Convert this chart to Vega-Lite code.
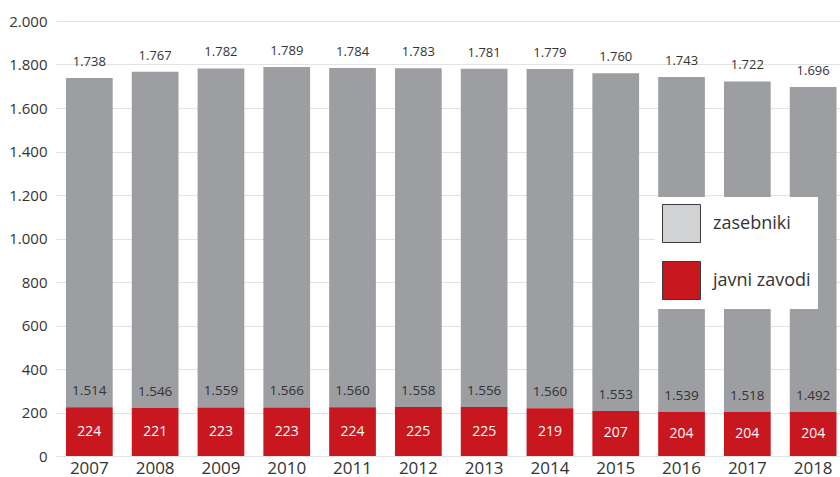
{
  "$schema": "https://vega.github.io/schema/vega-lite/v6.json",
  "width": 784,
  "height": 435,
  "autosize": {"type": "none"},
  "padding": {"left": 56, "top": 21, "right": 0, "bottom": 21},
  "background": "white",
  "config": {
    "locale": {"number": {"decimal": ",", "thousands": ".", "grouping": [3], "currency": ["", " €"]}},
    "font": "Open Sans",
    "view": {"stroke": null},
    "axis": {"domain": false, "ticks": false, "labelColor": "#333333", "title": null}
  },
  "data": {
    "values": [
      {"leto": "2007", "javni": 224, "zasebniki": 1514, "skupaj": 1738},
      {"leto": "2008", "javni": 221, "zasebniki": 1546, "skupaj": 1767},
      {"leto": "2009", "javni": 223, "zasebniki": 1559, "skupaj": 1782},
      {"leto": "2010", "javni": 223, "zasebniki": 1566, "skupaj": 1789},
      {"leto": "2011", "javni": 224, "zasebniki": 1560, "skupaj": 1784},
      {"leto": "2012", "javni": 225, "zasebniki": 1558, "skupaj": 1783},
      {"leto": "2013", "javni": 225, "zasebniki": 1556, "skupaj": 1781},
      {"leto": "2014", "javni": 219, "zasebniki": 1560, "skupaj": 1779},
      {"leto": "2015", "javni": 207, "zasebniki": 1553, "skupaj": 1760},
      {"leto": "2016", "javni": 204, "zasebniki": 1539, "skupaj": 1743},
      {"leto": "2017", "javni": 204, "zasebniki": 1518, "skupaj": 1722},
      {"leto": "2018", "javni": 204, "zasebniki": 1492, "skupaj": 1696}
    ]
  },
  "encoding": {
    "x": {
      "field": "leto", "type": "ordinal",
      "scale": {"paddingInner": 0.29, "paddingOuter": 0.1025, "align": 0.74},
      "axis": {"labelAngle": 0, "labelFontSize": 17, "labelPadding": 4, "grid": false}
    }
  },
  "resolve": {"scale": {"color": "independent"}},
  "layer": [
    {
      "transform": [{"fold": ["zasebniki", "javni"], "as": ["vrsta", "stevilo"]}],
      "mark": {"type": "bar"},
      "encoding": {
        "y": {
          "field": "stevilo", "type": "quantitative", "stack": "zero",
          "scale": {"domain": [0, 2000]},
          "axis": {"values": [0, 200, 400, 600, 800, 1000, 1200, 1400, 1600, 1800, 2000], "format": ",d", "labelFontSize": 15, "labelPadding": 9, "grid": true, "gridColor": "#e3e3e3", "gridWidth": 1}
        },
        "order": {"field": "vrsta", "sort": "ascending"},
        "color": {
          "field": "vrsta", "type": "nominal",
          "scale": {"domain": ["zasebniki", "javni"], "range": ["#9d9ea2", "#c8171e"]},
          "legend": null
        }
      }
    },
    {
      "transform": [{"fold": ["zasebniki", "javni"], "as": ["vrsta", "stevilo"]}],
      "mark": {"type": "bar"},
      "encoding": {
        "y": {"datum": 0, "type": "quantitative"},
        "y2": {"datum": 0},
        "color": {
          "field": "vrsta", "type": "nominal",
          "scale": {"domain": ["zasebniki", "javni"], "range": ["#d1d2d4", "#c8171e"]},
          "legend": {
            "orient": "none", "legendX": 599, "legendY": 176,
            "title": null,
            "fillColor": "white",
            "padding": 7,
            "symbolType": "square", "symbolSize": 1444,
            "rowPadding": 14,
            "labelFontSize": 18, "labelColor": "#333333", "labelOffset": 12,
            "labelLimit": 200,
            "labelExpr": "datum.label == 'javni' ? 'javni zavodi' : 'zasebniki'",
            "encode": {
              "symbols": {
                "update": {
                  "stroke": {"value": "#3a3a3a"},
                  "strokeWidth": {"value": 1},
                  "opacity": {"value": 1}
                }
              }
            }
          }
        }
      }
    },
    {
      "mark": {"type": "text", "dy": -16, "fontSize": 13, "color": "#333333"},
      "encoding": {
        "y": {"field": "skupaj", "type": "quantitative"},
        "text": {"field": "skupaj", "type": "quantitative", "format": ",d"}
      }
    },
    {
      "mark": {"type": "text", "dy": -16, "fontSize": 13.5, "color": "#333333"},
      "encoding": {
        "y": {"field": "javni", "type": "quantitative"},
        "text": {"field": "zasebniki", "type": "quantitative", "format": ",d"}
      }
    },
    {
      "transform": [{"calculate": "datum.javni / 2", "as": "sredina"}],
      "mark": {"type": "text", "fontSize": 14, "color": "white"},
      "encoding": {
        "y": {"field": "sredina", "type": "quantitative"},
        "text": {"field": "javni", "type": "quantitative", "format": ",d"}
      }
    }
  ]
}
